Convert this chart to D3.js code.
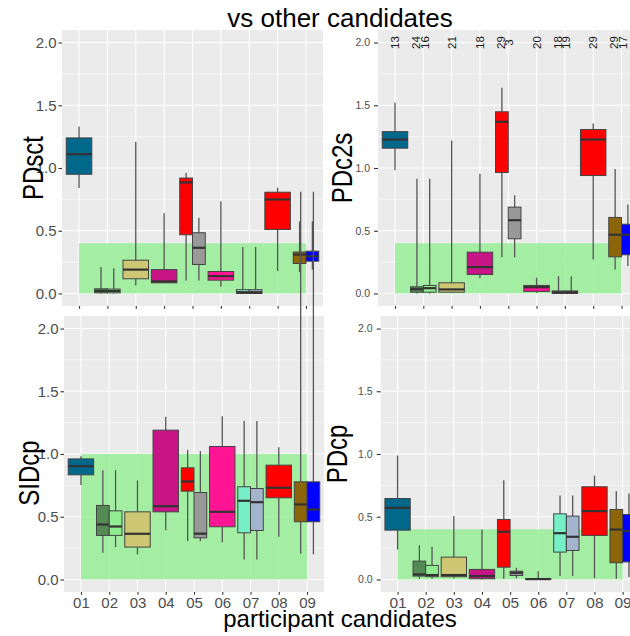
<!DOCTYPE html>
<html><head><meta charset="utf-8">
<script src="https://cdn.jsdelivr.net/npm/d3@7"></script>
<style>body{margin:0;background:#fff}svg{display:block}text{font-family:"Liberation Sans",Arial,sans-serif}</style>
</head><body>
<svg id="c" width="630" height="636"></svg>
<script>
// ---- data ----
const categories = ["01","02","03","04","05","06","07","08","09"];
const boxCategory = ["01","02","02","03","04","05","05","06","07","07","08","09","09"];
const boxColors = ["#00688B","#548B54","#90EE90","#CDC673","#C71585","#FF0000","#999999","#FF1493","#76EEC6","#A2B5CD","#FF0000","#8B6508","#0000FF"];
const yTicks = [0, 0.5, 1.0, 1.5, 2.0];
const yMinor = [0.25, 0.75, 1.25, 1.75];
// [lower whisker, q1, median, q3, upper whisker]
const PDsct = [[0.84,0.95,1.11,1.24,1.33],[0,0.005,0.02,0.037,0.21],[0,0.005,0.02,0.035,0.20],[0.064,0.117,0.19,0.265,1.21],[0.085,0.085,0.096,0.19,0.64],[0.104,0.468,0.885,0.92,0.96],[0.104,0.231,0.364,0.484,0.603],[0.053,0.106,0.138,0.175,0.735],[0,0,0.01,0.03,0.37],[0,0,0.01,0.03,0.37],[0.178,0.51,0.749,0.807,0.842],[0.17,0.239,0.31,0.33,0.574],[0.19,0.257,0.297,0.337,0.574]];
const PDc2s = [[0.982,1.158,1.227,1.29,1.52],[0,0.01,0.034,0.053,0.914],[0,0.01,0.042,0.064,0.914],[0.005,0.01,0.032,0.085,1.219],[0.122,0.151,0.21,0.329,0.954],[0.289,0.964,1.368,1.448,1.639],[0.289,0.436,0.584,0.688,0.783],[0.005,0.016,0.05,0.064,0.125],[0,0,0.01,0.02,0.138],[0,0,0.01,0.02,0.138],[0.271,0.94,1.227,1.307,1.355],[0.191,0.292,0.468,0.606,0.993],[0.218,0.308,0.468,0.552,0.709]];
const SIDcp = [[0.752,0.834,0.903,0.961,0.983],[0.212,0.351,0.438,0.59,0.871],[0.258,0.351,0.422,0.547,0.871],[0.2,0.258,0.364,0.539,0.789],[0.393,0.539,0.584,1.19,1.296],[0.305,0.704,0.781,0.89,1.033],[0.305,0.332,0.365,0.693,1.022],[0.297,0.42,0.539,1.06,1.301],[0.159,0.372,0.627,0.739,1.264],[0.159,0.39,0.616,0.725,1.264],[0.34,0.651,0.731,0.911,1.054],[0.205,0.46,0.598,0.778,3.09],[0.2,0.46,0.558,0.778,3.09]];
const PDcp = [[0.239,0.393,0.571,0.645,0.988],[0.005,0.027,0.04,0.146,0.273],[0.005,0.022,0.035,0.112,0.26],[0.01,0.022,0.035,0.178,0.505],[0,0.006,0.027,0.08,0.398],[0.006,0.098,0.38,0.478,0.791],[0.01,0.032,0.053,0.066,0.093],[0,0,0.003,0.005,0.066],[0.027,0.218,0.369,0.523,0.669],[0.027,0.231,0.34,0.505,0.669],[0.01,0.351,0.545,0.739,0.829],[0.006,0.133,0.398,0.558,0.704],[0.02,0.14,0.385,0.518,0.685]];
const countsPDc2s = [13,24,16,21,18,29,3,20,18,19,29,29,17];
const bandTop = {PDsct:0.4, PDc2s:0.4, SIDcp:1.0, PDcp:0.4};
const titleText = "vs other candidates";
const xTitleText = "participant candidates";

// ---- drawing ----
const svg = d3.select("#c");
const panels = [
  {name:"PDsct", data:PDsct, x:[62,323], y:[30,306], tickFs:15, tickLen:3.5, labelGap:5.5, showX:false, titleX:43, titleY:168},
  {name:"PDc2s", data:PDc2s, x:[378,638.5], y:[30,306], tickFs:10.5, tickLen:4, labelGap:8, showX:false, titleX:351.5, titleY:168, counts:countsPDc2s},
  {name:"SIDcp", data:SIDcp, x:[64,324], y:[316,592], tickFs:15, tickLen:3.5, labelGap:5.5, showX:true, xFs:15, titleX:38.5, titleY:473},
  {name:"PDcp", data:PDcp, x:[380.7,639.5], y:[316,592], tickFs:10.5, tickLen:4, labelGap:8, showX:true, xFs:15.5, titleX:347, titleY:454}
];

// slot info for dodging
const catCount = {};
boxCategory.forEach(c => catCount[c] = (catCount[c]||0)+1);
const slotIdx = []; const seen = {};
boxCategory.forEach((c,i) => { slotIdx[i] = seen[c]||0; seen[c] = slotIdx[i]+1; });

panels.forEach(p => {
  const g = svg.append("g");
  const x = d3.scalePoint().domain(categories).range(p.x).padding(0.6);
  const y = d3.scaleLinear().domain([-0.1, 2.1]).range([p.y[1], p.y[0]]);
  const step = x.step();
  g.append("rect").attr("x", p.x[0]).attr("y", p.y[0]).attr("width", p.x[1]-p.x[0]).attr("height", p.y[1]-p.y[0]).attr("fill", "#EBEBEB");
  g.selectAll(".mn").data(yMinor).join("line").attr("x1", p.x[0]).attr("x2", p.x[1]).attr("y1", d=>y(d)).attr("y2", d=>y(d)).attr("stroke","#fff").attr("stroke-width",0.55);
  g.selectAll(".mj").data(yTicks).join("line").attr("x1", p.x[0]).attr("x2", p.x[1]).attr("y1", d=>y(d)).attr("y2", d=>y(d)).attr("stroke","#fff").attr("stroke-width",1.1);
  g.selectAll(".vx").data(categories).join("line").attr("x1", d=>x(d)).attr("x2", d=>x(d)).attr("y1", p.y[0]).attr("y2", p.y[1]).attr("stroke","#fff").attr("stroke-width",1.1);
  // green band
  g.append("rect").attr("x", x("01")).attr("width", x("09")-x("01")).attr("y", y(bandTop[p.name])).attr("height", y(0)-y(bandTop[p.name])).attr("fill","#90EE90").attr("opacity",0.78);
  // y axis
  const ya = d3.axisLeft(y).tickValues(yTicks).tickFormat(d3.format(".1f")).tickSize(p.tickLen).tickPadding(p.labelGap - p.tickLen);
  const yg = g.append("g").attr("transform", `translate(${p.x[0]},0)`).call(ya);
  yg.select(".domain").remove();
  yg.selectAll("line").attr("stroke","#333").attr("stroke-width",1.1);
  yg.selectAll("text").attr("fill","#4D4D4D").attr("font-size", p.tickFs).attr("font-family","Liberation Sans, Arial, sans-serif");
  // x axis
  const xa = d3.axisBottom(x).tickSize(2.75).tickPadding(2).tickFormat(p.showX ? (d=>d) : (()=>""));
  const xg = g.append("g").attr("transform", `translate(0,${p.y[1]})`).call(xa);
  xg.select(".domain").remove();
  xg.selectAll("line").attr("stroke","#333").attr("stroke-width",1.1);
  xg.selectAll("text").attr("fill","#4D4D4D").attr("font-size", p.xFs||12).attr("font-family","Liberation Sans, Arial, sans-serif").attr("dy","0.72em");
  // y title
  g.append("text").attr("transform", `translate(${p.titleX},${p.titleY}) rotate(-90) scale(1,1.2)`).attr("text-anchor","middle").attr("font-size",24).attr("fill","#000").text(p.name);
  // boxes
  const bw = step*0.9;
  const cx = i => { const n = catCount[boxCategory[i]]; const w = bw/n; return x(boxCategory[i]) - bw/2 + w*slotIdx[i] + w/2; };
  const wid = i => bw / catCount[boxCategory[i]];
  const bg = g.append("g");
  p.data.forEach((d,i) => {
    const c = cx(i), w = wid(i);
    bg.append("line").attr("x1",c).attr("x2",c).attr("y1",y(d[4])).attr("y2",y(d[3])).attr("stroke","#555").attr("stroke-width",1.3);
    bg.append("line").attr("x1",c).attr("x2",c).attr("y1",y(d[1])).attr("y2",y(d[0])).attr("stroke","#555").attr("stroke-width",1.3);
    bg.append("rect").attr("x",c-w/2).attr("width",w).attr("y",y(d[3])).attr("height",Math.max(0,y(d[1])-y(d[3]))).attr("fill",boxColors[i]).attr("stroke","#444").attr("stroke-width",1);
    bg.append("line").attr("x1",c-w/2).attr("x2",c+w/2).attr("y1",y(d[2])).attr("y2",y(d[2])).attr("stroke","#333").attr("stroke-width",2.2);
  });
  if (p.counts) {
    p.counts.forEach((n,i) => {
      const c = catCount[boxCategory[i]] > 1 ? x(boxCategory[i]) - 3 + (slotIdx[i] ? 4.2 : -4.2) : x(boxCategory[i]);
      g.append("text").attr("transform", `translate(${c+4},${y(2.0)}) rotate(-90)`).attr("text-anchor","middle").attr("font-size",11.5).attr("fill","#1a1a1a").text(n);
    });
  }
});

svg.append("text").attr("x",340).attr("y",27).attr("text-anchor","middle").attr("font-size",26).attr("fill","#000").text(titleText);
svg.append("text").attr("x",340).attr("y",627).attr("text-anchor","middle").attr("font-size",24).attr("fill","#000").text(xTitleText);
</script>
</body></html>
